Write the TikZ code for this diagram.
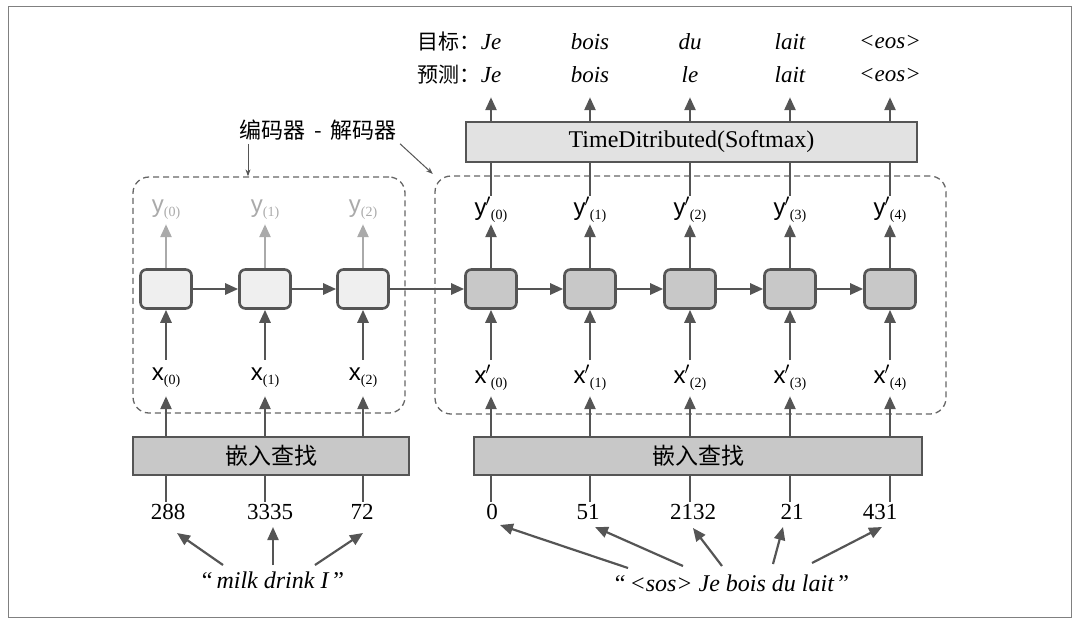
\documentclass[tikz,border=0pt]{standalone}
\usepackage{fontspec}
\setmainfont{Liberation Serif}
\setsansfont{Liberation Sans}
\newfontfamily\cjk{Noto Sans CJK SC}
\usetikzlibrary{arrows.meta}
\usetikzlibrary{positioning}
\definecolor{DarkGray}{HTML}{555555}
\definecolor{LightGray}{HTML}{AAAAAA}
\definecolor{CellGray}{HTML}{C8C8C8}
\definecolor{CellWhite}{HTML}{EFEFEF}
\definecolor{BarGray}{HTML}{E2E2E2}
\definecolor{DashGray}{HTML}{666666}
\newcommand{\vlabel}[2]{{\sffamily\fontsize{24}{24}\selectfont #1}{\fontsize{14}{14}\selectfont\raisebox{-4pt}{(#2)}}}
\tikzset{
  cell/.style={draw=DarkGray, line width=2.6pt, rounded corners=6pt,
    minimum width=51pt, minimum height=39pt, inner sep=0pt},
  bar/.style={draw=DarkGray, line width=1.8pt, inner sep=0pt,
    font=\fontsize{24}{24}\selectfont},
  groupbox/.style={draw=DashGray, line width=1.3pt, dash pattern=on 6pt off 4pt,
    rounded corners=16pt, inner sep=0pt},
  ylbl/.style={inner sep=0pt, minimum height=28pt},
  xlbl/.style={inner sep=0pt, minimum height=36pt},
  word/.style={inner sep=0pt, font=\fontsize{23}{23}\selectfont\itshape},
  num/.style={inner sep=2pt, font=\fontsize{23}{23}\selectfont},
  flowarrow/.style={draw=DarkGray, line width=2.6pt, -{Triangle[length=13pt,width=11pt]}},
  plainline/.style={draw=DarkGray, line width=2.6pt},
  thinarrow/.style={draw=DarkGray, line width=1pt, -{Stealth[length=7pt,width=5pt]}}
}
\begin{document}
\begin{tikzpicture}[x=1pt, y=-1pt]
  \useasboundingbox (0,0) rectangle (1080,622);
  \draw[gray, line width=1pt] (8,6) rectangle (1071,617);

  % groups
  \node[groupbox, minimum width=272pt, minimum height=236pt] (EncBox) at (269,295) {};
  \node[groupbox, minimum width=511pt, minimum height=238pt] (DecBox) at (690.5,295) {};
  \node[font=\cjk\fontsize{22}{22}\selectfont] (Title) at (318,130) {编码器\ \,-\ \,解码器};
  \coordinate (TitleL) at ([xshift=-70pt]Title.south);
  \coordinate (TitleR) at ([xshift=82pt]Title.south);
  \draw[thinarrow] (TitleL) -- (TitleL |- EncBox.north);
  \draw[thinarrow, shorten >=2pt] (TitleR) -- (DecBox.north west);

  % embedding and softmax bars
  \node[bar, fill=CellGray, font=\cjk\fontsize{23}{23}\selectfont,
    minimum width=276pt, minimum height=38pt] (EmbEnc) at (271,456) {嵌入查找};
  \node[bar, fill=CellGray, font=\cjk\fontsize{23}{23}\selectfont,
    minimum width=448pt, minimum height=38pt] (EmbDec) at (698,456) {嵌入查找};
  \node[bar, fill=BarGray, minimum width=451pt, minimum height=40pt] (TD) at (691.5,142)
    {TimeDitributed(Softmax)};

  % encoder
  \foreach \i/\x in {0/166,1/265,2/363}{%
    \node[cell, fill=CellWhite] (Enc\i) at (\x,289) {};
    \node[ylbl, text=LightGray] (Yenc\i) at (\x,210) {\vlabel{y}{\i}};
    \node[xlbl] (Xenc\i) at (\x,378) {\vlabel{x}{\i}};
    \draw[flowarrow, draw=LightGray] (Enc\i.north) -- (Yenc\i.south);
    \draw[flowarrow] (Xenc\i.north) -- (Enc\i.south);
    \draw[flowarrow] (Xenc\i.south |- EmbEnc.north) -- (Xenc\i.south);
  }

  % decoder
  \foreach \i/\x/\t/\p in {0/491/Je/Je,1/590/bois/bois,2/690/du/le,3/790/lait/lait,4/890/<eos>/<eos>}{%
    \node[cell, fill=CellGray] (Dec\i) at (\x,289) {};
    \node[ylbl] (Ydec\i) at (\x,210) {\vlabel{y\kern-1pt$'$}{\i}};
    \node[xlbl] (Xdec\i) at (\x,378) {\vlabel{x\kern-1pt$'$}{\i}};
    \node[word] (Targ\i) at (\x,42) {\t};
    \node[word, minimum height=44pt] (Pred\i) at (\x,75) {\p};
    \draw[flowarrow] (Dec\i.north) -- (Ydec\i.south);
    \draw[plainline] (Ydec\i.north) -- (Ydec\i.north |- TD.south);
    \draw[flowarrow] (Ydec\i.north |- TD.north) -- (Pred\i.south);
    \draw[flowarrow] (Xdec\i.north) -- (Dec\i.south);
    \draw[flowarrow] (Xdec\i.south |- EmbDec.north) -- (Xdec\i.south);
  }
  \node[font=\cjk\fontsize{21}{21}\selectfont, inner sep=0pt, left=0pt of Targ0] {目标：};
  \node[font=\cjk\fontsize{21}{21}\selectfont, inner sep=0pt, left=0pt of Pred0] {预测：};

  \foreach \a/\b in {Enc0/Enc1,Enc1/Enc2,Enc2/Dec0,Dec0/Dec1,Dec1/Dec2,Dec2/Dec3,Dec3/Dec4}{%
    \draw[flowarrow] (\a.east) -- (\b.west);
  }

  % token ids
  \foreach \i/\x/\n in {0/168/288,1/270/3335,2/362/72}{%
    \node[num] (NumE\i) at (\x,512) {\n};
    \draw[plainline] (Xenc\i |- EmbEnc.south) -- (Xenc\i |- NumE\i.north);
  }
  \foreach \i/\x/\n in {0/492/0,1/588/51,2/693/2132,3/792/21,4/880/431}{%
    \node[num] (NumD\i) at (\x,512) {\n};
    \draw[plainline] (Xdec\i |- EmbDec.south) -- (Xdec\i |- NumD\i.north);
  }

  % sentences
  \node[num, font=\fontsize{24}{24}\selectfont] (QuoteEnc) at (273,580) {“\,\textit{milk drink I}\,”};
  \node[num, font=\fontsize{24}{24}\selectfont] (QuoteDec) at (732,583) {“\,\textit{<sos> Je bois du lait}\,”};
  \foreach \sx/\n/\ex/\ey in {-50/0/9/21,0/1/3/15,42/2/1/21}{%
    \draw[flowarrow, line width=2.2pt] ([shift={(\sx,-15)}]QuoteEnc.center) -- ([shift={(\ex,\ey)}]NumE\n.center);
  }
  \foreach \sx/\sy/\n/\ex/\ey in {-104/-15/0/8/13,-49/-17/1/7/15,-10/-17/2/0/16,41/-19/3/-9/15,80/-20/4/2/15}{%
    \draw[flowarrow, line width=2.2pt] ([shift={(\sx,\sy)}]QuoteDec.center) -- ([shift={(\ex,\ey)}]NumD\n.center);
  }
\end{tikzpicture}
\end{document}
